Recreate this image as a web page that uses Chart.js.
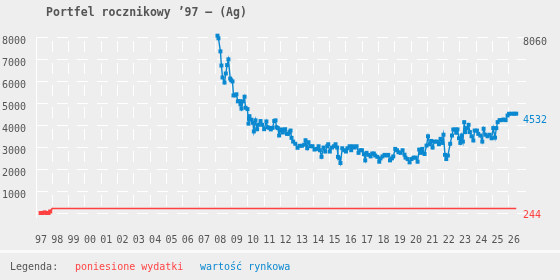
<!DOCTYPE html>
<html><head><meta charset="utf-8">
<script src="https://cdn.jsdelivr.net/npm/chart.js@4"></script>
<style>
html,body{margin:0;padding:0;background:#eeeeee;}
#wrap{position:relative;width:560px;height:280px;overflow:hidden;background:#eeeeee;}
canvas{position:absolute;left:0;top:0;}
.t{position:absolute;font-family:"DejaVu Sans Mono",monospace;white-space:pre;}
#title{left:0;width:293px;text-align:center;top:5px;font-size:11.5px;font-weight:bold;color:#555;line-height:14px;}
#band{position:absolute;left:0;top:250px;width:560px;height:3px;background:#fafafa;}
.lg{top:261px;font-size:10px;line-height:12px;}
</style></head>
<body><div id="wrap">
<canvas id="c" width="560" height="280"></canvas>
<div id="title" class="t">Portfel rocznikowy ’97 – (Ag)</div>
<div id="band"></div>
<div class="t lg" style="left:10px;color:#555">Legenda:</div>
<div class="t lg" style="left:75px;color:#ff4545">poniesione wydatki</div>
<div class="t lg" style="left:200px;color:#0a88d0">wartość rynkowa</div>
</div>
<script>
// ---- data ----
const yearTicks = [1997,1998,1999,2000,2001,2002,2003,2004,2005,2006,2007,2008,2009,2010,2011,2012,2013,2014,2015,2016,2017,2018,2019,2020,2021,2022,2023,2024,2025,2026];
const valueTicks = [0,1000,2000,3000,4000,5000,6000,7000,8000];

const costYears = [1997.28,1997.40,1997.53,1997.65,1997.77,1997.87,1997.99,2026.45];
const costs     = [40,40,70,40,40,110,244,244];

const marketYears = [
2008.13,2008.19,2008.31,2008.37,2008.44,2008.56,2008.64,2008.72,2008.80,2008.91,2008.97,
2009.05,2009.11,2009.21,2009.29,2009.38,2009.48,2009.54,2009.60,2009.69,2009.79,2009.85,2009.97,
2010.03,2010.06,2010.09,2010.21,2010.30,2010.36,2010.46,2010.56,2010.64,2010.77,2010.87,2010.99,
2011.13,2011.20,2011.30,2011.40,2011.50,2011.61,2011.69,2011.75,2011.83,2011.91,2011.96,
2012.04,2012.14,2012.20,2012.28,2012.39,2012.47,2012.55,2012.61,2012.67,2012.77,2012.90,
2013.04,2013.16,2013.31,2013.45,2013.53,2013.63,2013.71,2013.83,2013.96,
2014.08,2014.20,2014.33,2014.41,2014.51,2014.63,2014.74,2014.86,2014.92,
2015.02,2015.15,2015.27,2015.37,2015.47,2015.52,2015.60,2015.67,2015.78,2015.90,
2016.01,2016.10,2016.23,2016.33,2016.43,2016.53,2016.66,2016.78,2016.88,2016.99,
2017.11,2017.19,2017.27,2017.39,2017.52,2017.62,2017.72,2017.80,2017.93,
2018.05,2018.13,2018.25,2018.37,2018.50,2018.60,2018.71,2018.83,2018.91,
2019.03,2019.14,2019.23,2019.36,2019.48,2019.60,2019.66,2019.79,2019.91,
2020.03,2020.15,2020.28,2020.40,2020.50,2020.61,2020.69,2020.83,2020.95,
2021.04,2021.14,2021.24,2021.32,2021.44,2021.59,2021.71,2021.81,2021.91,2021.99,
2022.08,2022.16,2022.26,2022.40,2022.51,2022.59,2022.71,2022.77,2022.85,2022.94,
2023.02,2023.10,2023.18,2023.26,2023.34,2023.43,2023.53,2023.61,2023.71,2023.82,2023.90,
2024.04,2024.12,2024.25,2024.37,2024.45,2024.57,2024.69,2024.82,2024.94,
2025.04,2025.15,2025.23,2025.31,2025.43,2025.55,2025.67,2025.80,2025.92,
2026.01,2026.17,2026.33,2026.45];
const marketValue = [
8060,7940,7350,6710,6170,5940,6350,6730,6990,6120,6045,
5990,5360,5360,5410,5090,5100,4950,4760,5090,5300,4800,4740,
4080,4300,4420,4260,4120,3730,4230,3830,4030,4200,4030,3830,
4180,3920,3890,3820,3890,4200,4230,3920,3880,3545,3770,
3820,3680,3800,3830,3620,3620,3700,3770,3440,3270,3170,
2990,3080,3080,3130,3330,2970,3240,3060,3060,
2910,2940,3060,2880,2580,3000,2820,3060,3150,
2820,3000,3060,3150,3000,2580,2510,2300,2970,2880,
2820,2970,3060,2880,3060,3000,3060,2760,2880,2880,
2700,2420,2760,2670,2600,2730,2730,2640,2580,
2360,2510,2600,2670,2640,2670,2420,2510,2600,
2940,2880,2790,2760,2880,2680,2545,2480,2330,
2480,2545,2545,2360,2910,2760,2940,2710,3090,
3510,3150,3300,3000,3270,3270,3150,3395,3210,3580,
2670,2480,2640,3170,3545,3820,3820,3670,3820,3420,
3210,3545,3270,4150,3700,3880,4030,3700,3510,3320,3770,
3770,3620,3545,3270,3850,3580,3510,3580,3420,
3880,3450,3880,4150,4240,4240,4270,4240,4450,
4530,4530,4530,4532];

const maxLabel = 8060;
const lastMarket = marketValue[marketValue.length-1];
const lastCost = costs[costs.length-1];

const FONT = '"DejaVu Sans Mono", monospace';
const BLUE = '#0a88d0', RED = '#ff4040', GRAY = '#555555';

const endLabels = {
  id: 'endLabels',
  afterDraw(chart){
    const ctx = chart.ctx, y = chart.scales.y;
    ctx.save();
    ctx.font = '10px ' + FONT;
    ctx.textAlign = 'left';
    ctx.textBaseline = 'middle';
    const items = [[maxLabel, GRAY],[lastMarket, BLUE],[lastCost, RED]];
    for (const [v,c] of items){
      ctx.fillStyle = c;
      ctx.fillText(String(v), 523, y.getPixelForValue(v) + 7);
    }
    ctx.restore();
  }
};

new Chart(document.getElementById('c'), {
  type: 'line',
  data: {
    datasets: [
      {
        label: 'poniesione wydatki',
        data: costYears.map((x,i)=>({x, y: costs[i]})),
        borderColor: RED, backgroundColor: RED,
        borderWidth: 1.6, tension: 0,
        pointStyle: 'rect',
        pointRadius: ctx => ctx.dataIndex < 6 ? 2.8 : 0,
        pointBorderWidth: 0,
        clip: false
      },
      {
        label: 'wartość rynkowa',
        data: marketYears.map((x,i)=>({x, y: marketValue[i]})),
        borderColor: BLUE, backgroundColor: BLUE,
        borderWidth: 1.4, tension: 0,
        pointStyle: 'rect', pointRadius: 2.8, pointBorderWidth: 0,
        clip: false
      }
    ]
  },
  options: {
    responsive: false,
    animation: false,
    events: [],
    layout: { padding: { left: 0, top: 37, right: 34, bottom: 33 } },
    plugins: { legend: { display: false }, title: { display: false }, tooltip: { enabled: false } },
    scales: {
      x: {
        type: 'linear', min: 1997, max: 2027.05,
        afterBuildTicks: s => { s.ticks = yearTicks.map(v => ({ value: v })); },
        afterFit: s => { s.height = 30; },
        grid: { color: '#ffffff', lineWidth: 1, drawTicks: false },
        border: { display: false, dash: [11, 11], dashOffset: 18 },
        ticks: {
          autoSkip: false, maxRotation: 0, padding: 17, labelOffset: 5,
          color: GRAY, font: { family: FONT, size: 10 },
          callback: v => String(v % 100).padStart(2, '0')
        }
      },
      y: {
        type: 'linear', min: -140, max: 8000,
        afterBuildTicks: s => { s.ticks = valueTicks.map(v => ({ value: v })); },
        afterFit: s => { s.width = 36; },
        grid: { color: '#ffffff', lineWidth: 1, drawTicks: false },
        border: { display: true, color: '#ffffff', width: 1, dash: [11, 9] },
        ticks: {
          padding: 10, labelOffset: 4,
          color: GRAY, font: { family: FONT, size: 10 },
          callback: v => v === 0 ? '' : String(v)
        }
      }
    }
  },
  plugins: [endLabels]
});
</script>
</body></html>
